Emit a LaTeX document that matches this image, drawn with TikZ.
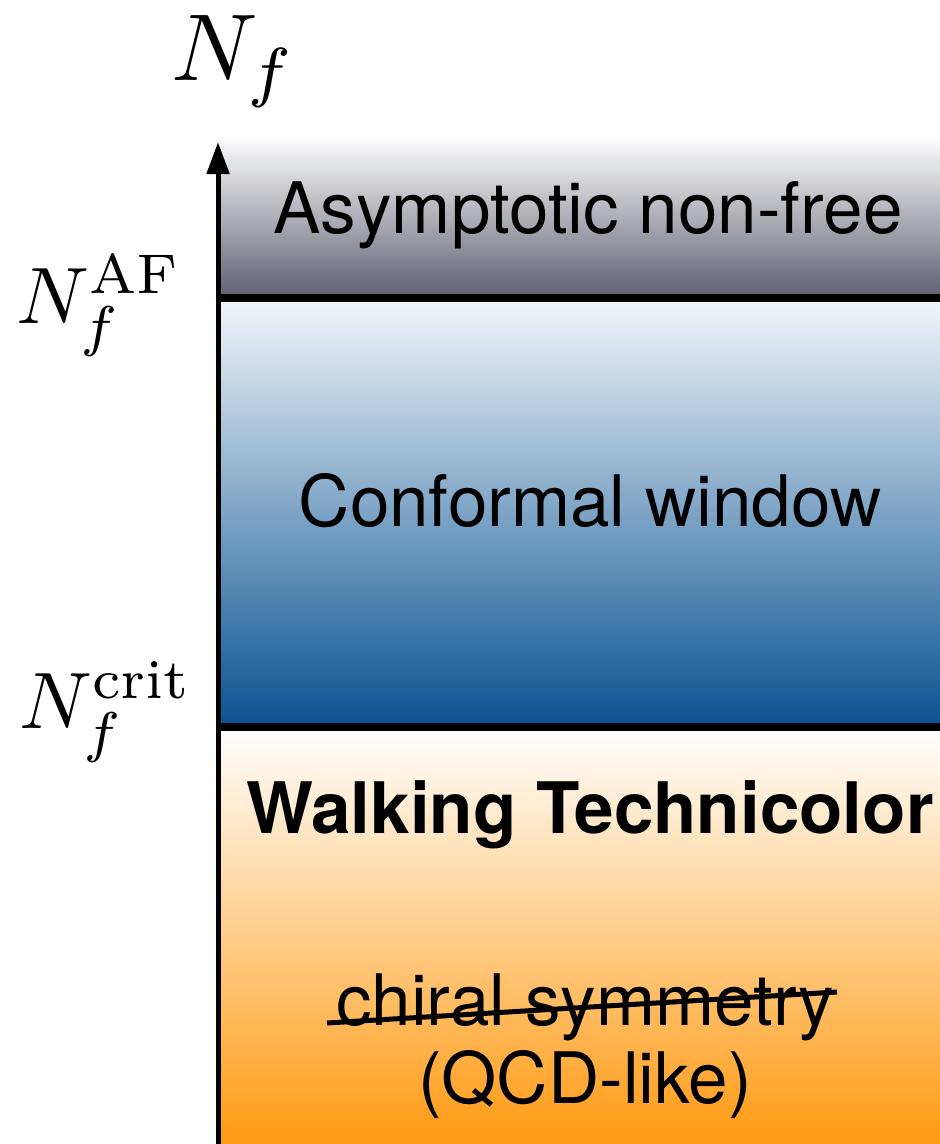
\RequirePackage{fix-cm}
\documentclass[tikz,border=0pt]{standalone}
\usepackage{fontspec}
\setsansfont{TeX Gyre Heros}
\usetikzlibrary{arrows.meta}

\definecolor{slategray}{RGB}{94,95,112}
\definecolor{windowblue}{RGB}{8,82,146}
\definecolor{qcdorange}{RGB}{255,154,18}

\tikzset{
  band/.style={draw=none},
  divider/.style={line width=8pt, line cap=butt},
  axisline/.style={line width=5pt, -{Triangle[length=32pt,width=22pt]}},
  regionlabel/.style={font=\sffamily\fontsize{71}{85}\selectfont, inner sep=0pt, anchor=base},
  boldlabel/.style={font=\sffamily\bfseries\fontsize{71}{85}\selectfont, inner sep=0pt, anchor=base},
  ticklabel/.style={inner sep=0pt, anchor=base west},
  strike/.style={line width=5pt},
}

\begin{document}
\begin{tikzpicture}[x=1pt, y=-1pt]
  \useasboundingbox (0,0) rectangle (940,1144);

  % colour bands of the three regimes
  \shade[band, top color=white, bottom color=slategray] (220,135) rectangle (940,298);
  \shade[band, top color=white!95!windowblue, bottom color=windowblue] (220,298) rectangle (940,727);
  \shade[band, top color=white, bottom color=qcdorange] (220,727) rectangle (940,1144);

  % boundaries between regimes
  \coordinate (afleft) at (216,298);
  \coordinate (afright) at (940,298);
  \coordinate (critleft) at (216,727);
  \coordinate (critright) at (940,727);
  \draw[divider] (afleft) -- (afright);
  \draw[divider] (critleft) -- (critright);

  % N_f axis
  \coordinate (axbot) at (218,1144);
  \coordinate (axtop) at (218,142);
  \draw[axisline] (axbot) -- (axtop);

  % axis labels: 10pt math, magnified
  \node[ticklabel] (nf) at (171,80) {\scalebox{9.5}{$N_f$}};
  \node[ticklabel] (naf) at (16,323) {\scalebox{8}{$N_f^{\mathrm{AF}}$}};
  \node[ticklabel] (ncrit) at (19,728) {\scalebox{8}{$N_f^{\mathrm{crit}}$}};

  % region texts
  \node[regionlabel] (anf) at (588,233) {Asymptotic non-free};
  \node[regionlabel] (cw) at (590,526) {Conformal window};
  \node[boldlabel] (wt) at (590,833) {Walking Technicolor};
  \node[regionlabel] (chiral) at (585,1025) {chiral symmetry};
  \node[regionlabel] (qcd) at (585,1103) {(QCD-like)};

  % chiral symmetry is struck through
  \coordinate (strikeL) at (327,1023);
  \coordinate (strikeR) at (837,992);
  \draw[strike] (strikeL) -- (strikeR);
\end{tikzpicture}
\end{document}
